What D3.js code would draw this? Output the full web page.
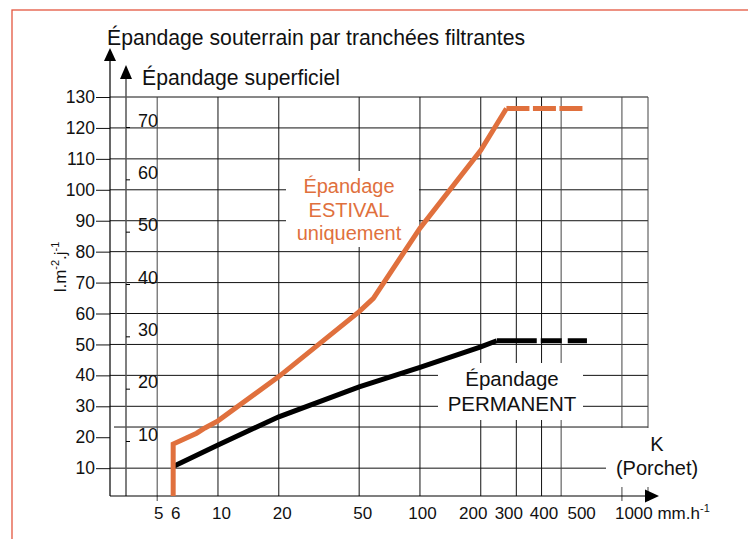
<!DOCTYPE html>
<html>
<head>
<meta charset="utf-8">
<script src="https://cdn.jsdelivr.net/npm/d3@7"></script>
<style>
body{margin:0;background:#fff;}
text{font-family:"Liberation Sans",Arial,sans-serif;fill:#111;}
</style>
</head>
<body>
<script>
// values
const yTicks = [10,20,30,40,50,60,70,80,90,100,110,120,130];
const yGridSkip = [20];
const sepLineValue = 23.3;          // line above "K (Porchet)"
const secTicks = [10,20,30,40,50,60,70];
const xGrid = [5,10,20,50,100,200,300,400,500,1000];
const xLabelPos = [5,6,10,20,50,100,200,300,400,500];
const xLabels = ["5","6","10","20","50","100","200","300","400","500"];
// labels in the original sit a little off their lines
const xLabelShift = [1,2,3,3,3,2,-8,-8,2,20];

const estivalK = [6,6,7.84,8.62,10,20,50,58.8,100,200,268];
const estivalV = [1,17.8,21.3,23,25.3,39.6,60.6,64.9,87.6,112.8,126.3];
const estivalDashK = [268,641];
const estivalDashV = [126.3,126.3];

const permK = [6,10,20,50,100,200,240];
const permV = [10.5,17.5,26.6,36.3,42.6,49.2,51.2];
const permDashK = [240,671];
const permDashV = [51.2,51.2];

const orange = "#e0703d";

const width = 748, height = 539;
const svg = d3.select("body").append("svg")
	.attr("width",width)
	.attr("height",height);

// scales
const x = d3.scaleLog().domain([2.92,1346]).range([110,648]);
const y = d3.scaleLinear().domain([1,130]).range([496,97]);
const y2 = d3.scaleLinear().domain([10,70]).range([441,127]);
const x0 = x.range()[0], x1 = x.range()[1];
const yb = y.range()[0], yt = y.range()[1];

// page frame
svg.append("rect")
	.attr("x",12).attr("y",10)
	.attr("width",900).attr("height",700)
	.attr("fill","none")
	.attr("stroke","#e4563f")
	.attr("stroke-width",1.3);

// grid
const grid = svg.append("g").attr("stroke","#111").attr("stroke-width",1);
grid.selectAll(".hg")
	.data(yTicks.filter(d => !yGridSkip.includes(d)))
	.enter().append("line")
		.attr("x1",x0).attr("x2",x1)
		.attr("y1",d => y(d)).attr("y2",d => y(d));
grid.append("line")
	.attr("x1",x0+4).attr("x2",x1)
	.attr("y1",y(sepLineValue)).attr("y2",y(sepLineValue));
grid.selectAll(".vg")
	.data(xGrid.concat([x.domain()[1]]))
	.enter().append("line")
		.attr("x1",d => x(d)).attr("x2",d => x(d))
		.attr("y1",yt)
		.attr("y2",d => (d===5 || d>=1000) ? yb+5 : yb)
		.attr("stroke",d => (d===5 || d>=500) ? "#444" : "#111");

// primary y axis
const yAxis = svg.append("g")
	.attr("transform","translate("+x0+",0)")
	.call(d3.axisLeft(y).tickValues(yTicks).tickSize(14).tickPadding(1));
yAxis.select(".domain").remove();
yAxis.selectAll("line").attr("stroke","#111");
yAxis.selectAll("text").attr("font-size","17.5px").attr("fill","#111")
	.style("font-family","'Liberation Sans',Arial,sans-serif");
svg.append("line")
	.attr("x1",x0).attr("x2",x0).attr("y1",yb).attr("y2",58)
	.attr("stroke","#000").attr("stroke-width",1.2);
svg.append("path")
	.attr("d","M"+x0+",48 L"+(x0-6)+",61 L"+(x0+6)+",61 Z").attr("fill","#000");

// secondary y axis
const sx = x0+16;
svg.append("line")
	.attr("x1",sx).attr("x2",sx).attr("y1",yb).attr("y2",74)
	.attr("stroke","#555").attr("stroke-width",1.5);
svg.append("path")
	.attr("d","M"+sx+",65 L"+(sx-6)+",79 L"+(sx+6)+",79 Z").attr("fill","#000");
const y2Axis = svg.append("g")
	.attr("transform","translate("+sx+",0)")
	.call(d3.axisRight(y2).tickValues(secTicks).tickSize(4).tickPadding(8));
y2Axis.select(".domain").remove();
y2Axis.selectAll("line").attr("stroke","#000");
y2Axis.selectAll("text").attr("font-size","18px").attr("fill","#111")
	.attr("dy","-0.05em")
	.style("font-family","'Liberation Sans',Arial,sans-serif");

// x axis
const xAxis = svg.append("g")
	.attr("transform","translate(0,"+yb+")")
	.call(d3.axisBottom(x).tickValues(xLabelPos)
		.tickFormat((d,i) => xLabels[i]).tickSize(0).tickPadding(11));
xAxis.select(".domain").remove();
xAxis.selectAll("text").attr("font-size","17px").attr("fill","#111")
	.attr("dx",(d,i) => xLabelShift[i])
	.style("font-family","'Liberation Sans',Arial,sans-serif");
svg.append("line")
	.attr("x1",x0).attr("x2",650).attr("y1",yb).attr("y2",yb)
	.attr("stroke","#000").attr("stroke-width",1.2);
svg.append("path")
	.attr("d","M659,"+yb+" L645,"+(yb-6.5)+" L645,"+(yb+6.5)+" Z").attr("fill","#000");
const unit = svg.append("text")
	.attr("x",x(1000)-7).attr("y",519)
	.attr("font-size","17px");
unit.append("tspan").text("1000 mm.h");
unit.append("tspan").attr("font-size","11px").attr("dy","-7").text("-1");

// white label backgrounds
const boxes = [[286,171,133,76],[438,363,145,57],[606,428,110,59]];
svg.selectAll(".box").data(boxes).enter().append("rect")
	.attr("x",d => d[0]).attr("y",d => d[1])
	.attr("width",d => d[2]).attr("height",d => d[3])
	.attr("fill","#fff");

// titles
svg.append("text").attr("x",107).attr("y",45).attr("font-size","21.2px")
	.text("Épandage souterrain par tranchées filtrantes");
svg.append("text").attr("x",142).attr("y",85).attr("font-size","21.2px")
	.text("Épandage superficiel");

const yl = svg.append("text")
	.attr("transform","translate(66,267) rotate(-90)")
	.attr("text-anchor","middle")
	.attr("font-size","17px");
yl.append("tspan").text("l.m");
yl.append("tspan").attr("font-size","11px").attr("dy","-7").text("-2");
yl.append("tspan").attr("dy","7").text(".j");
yl.append("tspan").attr("font-size","11px").attr("dy","-7").text("-1");

function block(lines, cx, y0, lh, color, size){
	const t = svg.append("text").attr("text-anchor","middle")
		.attr("font-size",size).style("fill",color);
	lines.forEach((s,i) => t.append("tspan").attr("x",cx).attr("y",y0+i*lh).text(s));
}
block(["Épandage","ESTIVAL","uniquement"],349,193,23.5,orange,"20px");
block(["Épandage","PERMANENT"],512,386,25,"#111","20.5px");
block(["K","(Porchet)"],657,451,23.5,"#111","20px");

// curves
const line = d3.line().x(d => x(d[0])).y(d => y(d[1]));
svg.append("path").datum(d3.zip(permK,permV))
	.attr("d",line).attr("fill","none")
	.attr("stroke","#000").attr("stroke-width",5);
svg.append("path").datum(d3.zip(permDashK,permDashV))
	.attr("d",line).attr("fill","none")
	.attr("stroke","#000").attr("stroke-width",5)
	.attr("stroke-dasharray","40,4,21,6,20");
svg.append("path").datum(d3.zip(estivalK,estivalV))
	.attr("d",line).attr("fill","none")
	.attr("stroke",orange).attr("stroke-width",5);
svg.append("path").datum(d3.zip(estivalDashK,estivalDashV))
	.attr("d",line).attr("fill","none")
	.attr("stroke",orange).attr("stroke-width",5)
	.attr("stroke-dasharray","23,3.5");
</script>
</body>
</html>
